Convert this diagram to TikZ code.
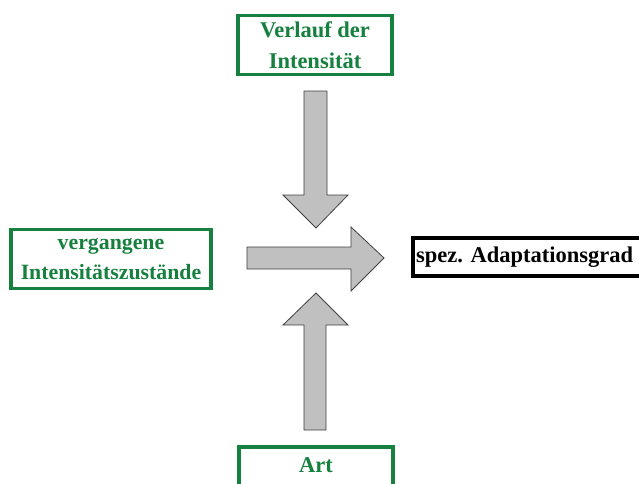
\documentclass[tikz,border=0pt]{standalone}
\usepackage{fontspec}
\setmainfont{Liberation Serif}
\definecolor{boxgreen}{RGB}{22,128,62}
\definecolor{arrowgray}{RGB}{192,192,192}
\begin{document}
\begin{tikzpicture}[x=1pt,y=-1pt,
  greenbox/.style={draw=boxgreen,line width=3.5pt,fill=white,text=boxgreen,font=\bfseries\fontsize{22.5}{31}\selectfont,align=center,inner sep=0pt,rectangle},
  blackbox/.style={draw=black,line width=4pt,fill=white,text=black,inner sep=0pt,rectangle},
  blockarrow/.style={draw=black!75,line width=0.8pt,fill=arrowgray,line join=miter}]
\useasboundingbox (0,0) rectangle (639,483);
\fill[white] (0,0) rectangle (639,483);
% boxes
\node[greenbox,minimum width=154pt,minimum height=59pt] (verlauf) at (315,45) {Verlauf der\\Intensität};
\node[greenbox,minimum width=200pt,minimum height=59pt,font=\bfseries\fontsize{21.8}{30}\selectfont] (vergangen) at (111,259) {vergangene\\Intensitätszustände};
\node[blackbox,minimum width=234pt,minimum height=38pt,anchor=west] (grad) at (411,257) {};
\node[font=\bfseries\fontsize{22.5}{31}\selectfont,anchor=west,inner sep=0pt] (gradtext) at (416,257) {spez. Adaptationsgrad};
\node[greenbox,minimum width=154pt,minimum height=60pt,anchor=north] (art) at (316,445) {};
\node[text=boxgreen,font=\bfseries\fontsize{22.5}{31}\selectfont,inner sep=0pt] (arttext) at (316,465) {Art};
% block arrows
\draw[blockarrow] (304,91) -- (327,91) -- (327,195) -- (348,195) -- (316,228) -- (283,195) -- (304,195) -- cycle;
\draw[blockarrow] (247,247) -- (351,247) -- (351,227) -- (384,258) -- (351,291) -- (351,269) -- (247,269) -- cycle;
\draw[blockarrow] (304,430) -- (326,430) -- (326,325) -- (348,325) -- (316,293) -- (283,325) -- (304,325) -- cycle;
\end{tikzpicture}
\end{document}
